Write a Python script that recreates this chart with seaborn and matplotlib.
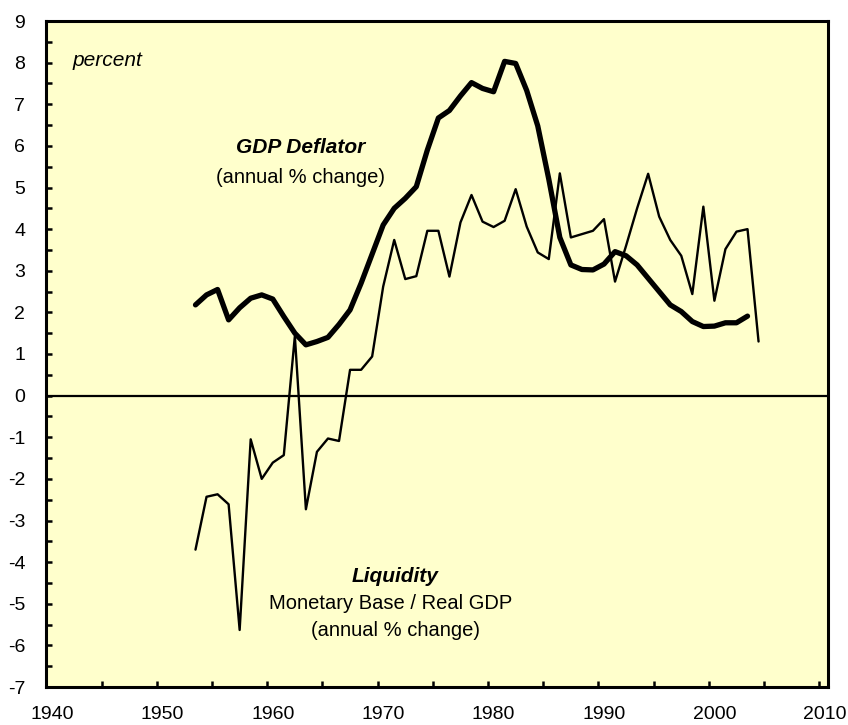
import numpy as np
import pandas as pd
import matplotlib
matplotlib.use("Agg")
import matplotlib.pyplot as plt
import seaborn as sns
from matplotlib.ticker import MultipleLocator, FixedLocator

sns.set_style("white")
plt.rcParams['font.family'] = ['Liberation Sans', 'DejaVu Sans']
plt.rcParams['text.color'] = 'black'
plt.rcParams['xtick.color'] = 'black'
plt.rcParams['ytick.color'] = 'black'

# ---- data ----
years_gdp = list(range(1953, 2004))
gdp_deflator = [2.18, 2.42, 2.55, 1.82, 2.11, 2.34, 2.42, 2.32, 1.90, 1.50,
                1.22, 1.30, 1.40, 1.71, 2.06, 2.70, 3.40, 4.10, 4.50, 4.74,
                5.02, 5.90, 6.67, 6.85, 7.20, 7.52, 7.38, 7.30, 8.03, 7.98,
                7.33, 6.48, 5.20, 3.80, 3.14, 3.03, 3.02, 3.16, 3.46, 3.36,
                3.14, 2.82, 2.50, 2.18, 2.02, 1.78, 1.66, 1.67, 1.75, 1.75,
                1.91]
years_liq = list(range(1953, 2005))
liquidity = [-3.70, -2.43, -2.37, -2.61, -5.63, -1.05, -2.00, -1.61, -1.43, 1.43,
             -2.73, -1.35, -1.03, -1.09, 0.62, 0.62, 0.94, 2.62, 3.74, 2.80,
             2.87, 3.96, 3.96, 2.86, 4.16, 4.82, 4.18, 4.05, 4.20, 4.96,
             4.06, 3.44, 3.28, 5.34, 3.80, 3.88, 3.96, 4.24, 2.74, 3.60,
             4.50, 5.33, 4.30, 3.74, 3.36, 2.44, 4.54, 2.28, 3.52, 3.94,
             4.00, 1.30]
x_labels = [1940, 1950, 1960, 1970, 1980, 1990, 2000, 2010]
y_labels = list(range(-7, 10))

df_gdp = pd.DataFrame({"year": years_gdp, "value": gdp_deflator})
df_liq = pd.DataFrame({"year": years_liq, "value": liquidity})

W, H = 848, 725
fig = plt.figure(figsize=(W / 100, H / 100), dpi=100)
L, R, T, B = 46, 828, 21, 687
ax = fig.add_axes([L / W, 1 - B / H, (R - L) / W, (B - T) / H])
ax.set_facecolor("#FFFFCC")

ax.axhline(0, color="black", lw=1.6, zorder=1)
sns.lineplot(data=df_liq, x="year", y="value", ax=ax, color="black", lw=1.7,
             estimator=None, sort=False, zorder=3)
sns.lineplot(data=df_gdp, x="year", y="value", ax=ax, color="black", lw=3.8,
             estimator=None, sort=False, zorder=4)

ax.set_xlim(1939.46, 2010.29)
ax.set_ylim(-7, 9)
ax.set_xlabel("")
ax.set_ylabel("")

ax.xaxis.set_major_locator(FixedLocator(x_labels))
ax.set_xticklabels([str(v) for v in x_labels])
ax.xaxis.set_minor_locator(FixedLocator(np.arange(1944.5, 2010, 5)))
ax.yaxis.set_major_locator(FixedLocator(y_labels))
ax.set_yticklabels([str(v) for v in y_labels])
ax.yaxis.set_minor_locator(MultipleLocator(0.5))

ax.tick_params(axis="x", which="major", length=0, labelsize=14, pad=14)
ax.tick_params(axis="x", which="minor", direction="in", length=4, width=1.8,
               bottom=True, color="black")
ax.tick_params(axis="y", which="both", direction="in", length=4, width=1.8,
               left=True, color="black")
ax.tick_params(axis="y", which="major", labelsize=14, pad=15)

for s in ax.spines.values():
    s.set_visible(True)
    s.set_color("black")
    s.set_linewidth(2.2)

ax.text(0.079, 0.941, "percent", transform=ax.transAxes, ha="center",
        va="center", fontsize=15, fontstyle="italic")
ax.text(1962.5, 5.95, "GDP Deflator", ha="center", va="center", fontsize=15,
        fontweight="bold", fontstyle="italic")
ax.text(1962.5, 5.25, "(annual % change)", ha="center", va="center",
        fontsize=14.5)
ax.text(1971.1, -4.35, "Liquidity", ha="center", va="center", fontsize=15,
        fontweight="bold", fontstyle="italic")
ax.text(1970.7, -5.0, "Monetary Base / Real GDP", ha="center", va="center",
        fontsize=14.5)
ax.text(1971.1, -5.65, "(annual % change)", ha="center", va="center",
        fontsize=14.5)

fig.savefig("out.png", dpi=100, facecolor="white")
